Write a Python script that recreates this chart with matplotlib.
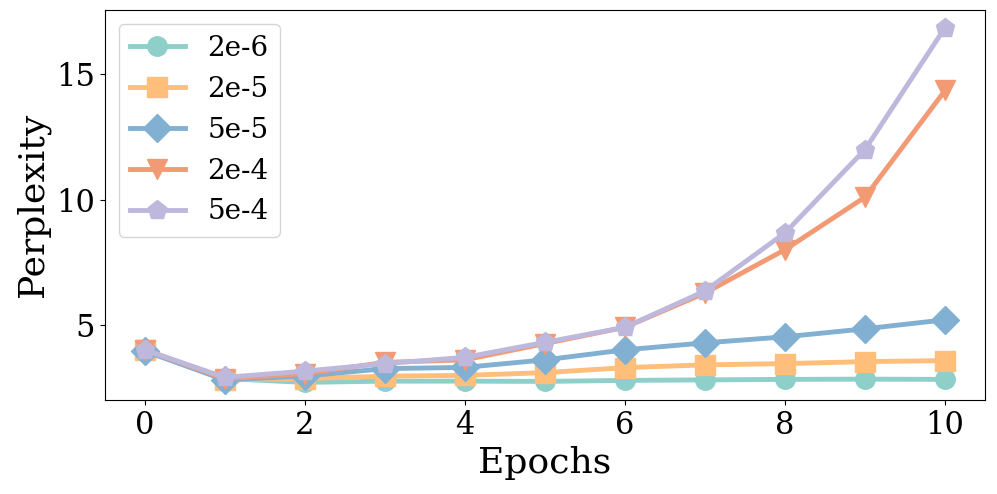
import numpy as np
import matplotlib
matplotlib.use('Agg')
import matplotlib.pyplot as plt

plt.rc('font', family='DejaVu Serif')

epochs = list(range(11))
labels = ['2e-6', '2e-5', '5e-5', '2e-4', '5e-4']
ppl_2e6 = [4.0, 2.85, 2.7, 2.75, 2.75, 2.74, 2.78, 2.8, 2.82, 2.83, 2.82]
ppl_2e5 = [4.0, 2.8, 2.85, 2.95, 2.98, 3.09, 3.29, 3.4, 3.45, 3.53, 3.57]
ppl_5e5 = [3.95, 2.8, 2.95, 3.25, 3.3, 3.6, 4.0, 4.28, 4.52, 4.84, 5.2]
ppl_2e4 = [4.0, 2.85, 3.05, 3.5, 3.6, 4.25, 4.9, 6.27, 8.0, 10.1, 14.36]
ppl_5e4 = [4.0, 2.9, 3.15, 3.45, 3.7, 4.3, 4.9, 6.35, 8.67, 12.0, 16.87]

series = [ppl_2e6, ppl_2e5, ppl_5e5, ppl_2e4, ppl_5e4]
colors = ['#8ecfc9', '#ffbe7a', '#82b0d2', '#f29a74', '#beb8dc']
markers = ['o', 's', 'D', 'v', 'p']

fig, ax = plt.subplots(figsize=(9.97, 4.94), dpi=100)
for vals, lab, c, m in zip(series, labels, colors, markers):
    ax.plot(epochs, vals, color=c, marker=m, markersize=14, linewidth=3.5, label=lab)

ax.set_xlabel('Epochs', fontsize=26)
ax.set_ylabel('Perplexity', fontsize=26)
ax.tick_params(labelsize=22)
ax.set_yticks([5, 10, 15])
ax.legend(fontsize=20, loc='upper left')
fig.subplots_adjust(left=0.105, right=0.988, top=0.98, bottom=0.19)
fig.savefig('out.png', dpi=100)
